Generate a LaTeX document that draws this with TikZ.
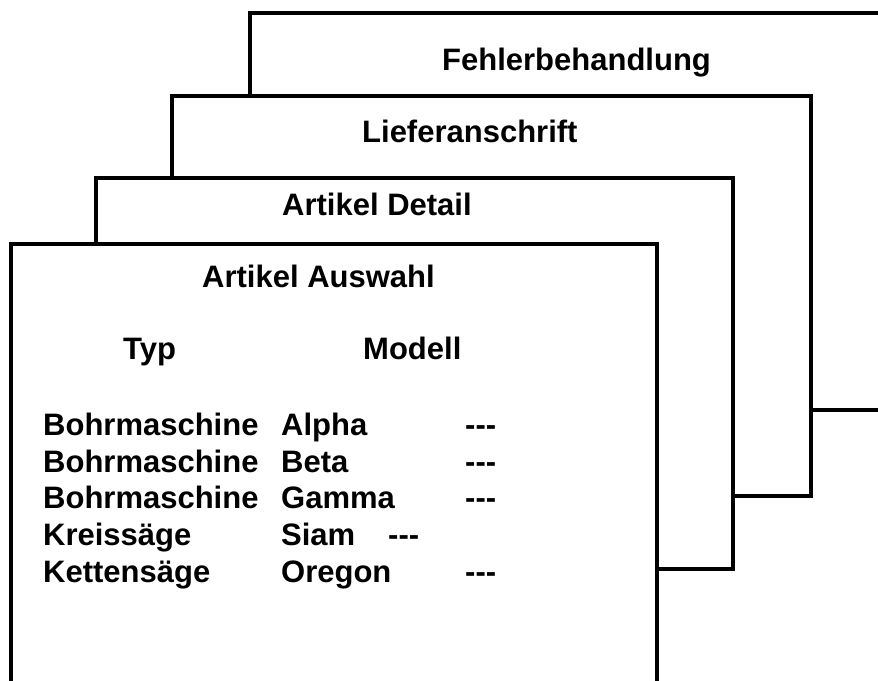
\documentclass[tikz,border=0pt]{standalone}
\usepackage{fontspec}
\setmainfont{Liberation Sans}
\begin{document}
\begin{tikzpicture}[x=1pt,y=-1pt,
  panel/.style={draw=black,fill=white,line width=4pt,line join=miter},
  lbl/.style={anchor=base west,inner sep=0pt,font=\fontsize{31}{37}\selectfont\bfseries}]
\useasboundingbox (0,0) rectangle (878,680);
\clip (0,0) rectangle (878,680);
\fill[white] (0,0) rectangle (878,680);
% stacked screens, back to front
\path[panel] (250,13) rectangle (920,410);
\path[panel] (172,96) rectangle (811,496);
\path[panel] (96,178) rectangle (733,569);
\path[panel] (11,244) rectangle (657,684);
% screen titles
\node[lbl] (t1) at (442,70) {Fehlerbehandlung};
\node[lbl] (t2) at (362,142) {Lieferanschrift};
\node[lbl] (t3) at (282,215) {Artikel Detail};
\node[lbl] (t4) at (202,287) {Artikel Auswahl};
% column heads
\node[lbl] (htyp) at (123,359) {Typ};
\node[lbl] (hmod) at (363,359) {Modell};
% article list
\node[lbl] (a1) at (43,435) {Bohrmaschine};
\node[lbl] (b1) at (281,435) {Alpha};
\node[lbl] (c1) at (465,435) {-{}-{}-};
\node[lbl] (a2) at (43,472) {Bohrmaschine};
\node[lbl] (b2) at (281,472) {Beta};
\node[lbl] (c2) at (465,472) {-{}-{}-};
\node[lbl] (a3) at (43,508) {Bohrmaschine};
\node[lbl] (b3) at (281,508) {Gamma};
\node[lbl] (c3) at (465,508) {-{}-{}-};
\node[lbl] (a4) at (43,545) {Kreissäge};
\node[lbl] (b4) at (281,545) {Siam};
\node[lbl] (c4) at (388,545) {-{}-{}-};
\node[lbl] (a5) at (43,582) {Kettensäge};
\node[lbl] (b5) at (281,582) {Oregon};
\node[lbl] (c5) at (465,582) {-{}-{}-};
\end{tikzpicture}
\end{document}
